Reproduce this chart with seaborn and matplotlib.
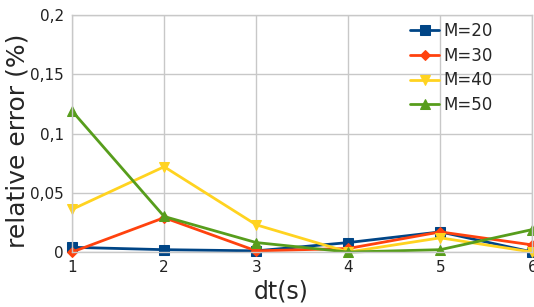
import pandas as pd
import matplotlib
matplotlib.use('Agg')
import matplotlib.pyplot as plt
from matplotlib.ticker import FuncFormatter
import seaborn as sns

dt = [1, 2, 3, 4, 5, 6]
m20 = [0.004, 0.002, 0.001, 0.008, 0.017, 0.0]
m30 = [0.0, 0.029, 0.001, 0.003, 0.017, 0.006]
m40 = [0.036, 0.072, 0.023, 0.0, 0.012, 0.0]
m50 = [0.119, 0.030, 0.008, 0.0, 0.002, 0.019]

series = {'M=20': m20, 'M=30': m30, 'M=40': m40, 'M=50': m50}
colors = {'M=20': '#004586', 'M=30': '#ff420e', 'M=40': '#ffd320', 'M=50': '#579d1c'}
markers = {'M=20': 's', 'M=30': 'D', 'M=40': 'v', 'M=50': '^'}
msizes = {'M=20': 7, 'M=30': 5, 'M=40': 7, 'M=50': 7}

sns.set_style('white')
plt.rcParams['font.family'] = ['DejaVu Sans']

fig = plt.figure(figsize=(5.34, 3.07), dpi=100)
ax = fig.add_axes([0.135, 0.179, 0.862, 0.772])

for name, vals in series.items():
    df = pd.DataFrame({'dt': dt, 'err': vals})
    sns.lineplot(data=df, x='dt', y='err', ax=ax, color=colors[name],
                 marker=markers[name], markersize=msizes[name],
                 markeredgecolor=colors[name], linewidth=2,
                 label=name, clip_on=False)

ax.set_xlim(1, 6)
ax.set_ylim(0, 0.2)
ax.set_xticks(dt)
ax.set_yticks([0, 0.05, 0.1, 0.15, 0.2])
ax.yaxis.set_major_formatter(FuncFormatter(lambda v, p: f'{v:g}'.replace('.', ',')))
ax.grid(True, color='#c8c8c8', linewidth=1)
for s in ax.spines.values():
    s.set_color('#c8c8c8')
    s.set_linewidth(1)
ax.tick_params(length=0, labelsize=11, colors='#222222', pad=6)
ax.set_xlabel('dt(s)', fontsize=17)
ax.set_ylabel('relative error (%)', fontsize=18)
ax.xaxis.set_label_coords(0.455, -0.115)
ax.yaxis.set_label_coords(-0.093, 0.47)

ax.legend(loc='upper left', bbox_to_anchor=(0.735, 0.97), frameon=False,
          fontsize=12, borderpad=0, borderaxespad=0, handlelength=1.7,
          handletextpad=0.25, labelspacing=0.4)

fig.savefig('out.png', dpi=100)
